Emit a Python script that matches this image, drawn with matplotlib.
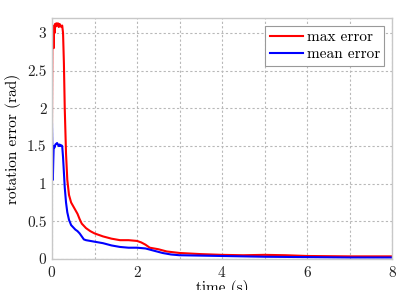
import numpy as np
import matplotlib as mpl
mpl.use('Agg')
import matplotlib.pyplot as plt

# time samples (s)
t_max = [0.0, 0.01, 0.02, 0.03, 0.04, 0.05, 0.06, 0.07, 0.08, 0.1, 0.12, 0.14, 0.16, 0.18, 0.2, 0.22, 0.24,
         0.26, 0.28, 0.3, 0.33, 0.36, 0.4, 0.45, 0.5, 0.55, 0.6, 0.65, 0.7, 0.8, 0.9, 1.0, 1.2, 1.4, 1.6, 1.8,
         2.0, 2.1, 2.2, 2.3, 2.5, 2.7, 3.0, 3.5, 4.0, 4.5, 5.0, 5.5, 6.0, 7.0, 8.0]
max_err = [1.8, 3.05, 2.85, 3.08, 2.8, 3.1, 3.0, 3.12, 3.08, 3.13, 3.1, 3.13, 3.08, 3.12, 3.1, 3.08, 3.1,
           3.0, 2.6, 2.0, 1.4, 1.05, 0.85, 0.75, 0.7, 0.65, 0.6, 0.53, 0.47, 0.41, 0.37, 0.34, 0.3, 0.27, 0.25, 0.25,
           0.24, 0.22, 0.19, 0.15, 0.13, 0.1, 0.08, 0.065, 0.055, 0.05, 0.055, 0.05, 0.04, 0.035, 0.035]

t_mean = [0.0, 0.01, 0.02, 0.03, 0.04, 0.06, 0.08, 0.1, 0.12, 0.14, 0.16, 0.18, 0.2, 0.22, 0.24, 0.26,
          0.28, 0.3, 0.33, 0.36, 0.4, 0.45, 0.5, 0.55, 0.6, 0.65, 0.7, 0.75, 0.8, 0.9, 1.0, 1.2, 1.4, 1.6,
          1.8, 2.0, 2.2, 2.4, 2.6, 2.8, 3.0, 3.5, 4.0, 5.0, 6.0, 7.0, 8.0]
mean_err = [1.8, 1.4, 1.05, 1.3, 1.5, 1.48, 1.52, 1.53, 1.54, 1.52, 1.5, 1.52, 1.5, 1.51, 1.5, 1.35,
            1.15, 0.95, 0.75, 0.62, 0.52, 0.45, 0.42, 0.39, 0.37, 0.34, 0.3, 0.26, 0.25, 0.24, 0.23, 0.21, 0.18, 0.16,
            0.15, 0.15, 0.14, 0.11, 0.08, 0.06, 0.05, 0.045, 0.04, 0.03, 0.025, 0.02, 0.02]

mpl.rcParams.update({
    "font.family": "cmr10",
    "mathtext.fontset": "cm",
    "axes.formatter.use_mathtext": True,
    "font.size": 11,
})

fig = plt.figure(figsize=(4.19, 2.90), dpi=100)
ax = fig.add_axes([52/419, 31/290, 340/419, 241/290])

ax.plot(t_max, max_err, color='#ff0000', lw=1.5, label='max error')
ax.plot(t_mean, mean_err, color='#0000ff', lw=1.5, label='mean error')

ax.set_xlim(0, 8)
ax.set_ylim(0, 3.2)
ax.set_xticks(np.arange(0, 9, 2))
ax.set_xticks(np.arange(0, 9, 1), minor=True)
ax.set_yticks(np.arange(0, 3.01, 0.5))
ax.set_yticklabels(['0', '0.5', '1', '1.5', '2', '2.5', '3'])
ax.grid(True, which='both', color='#b8b8b8', linestyle=(0, (2, 2)), linewidth=0.8)
ax.tick_params(which='both', length=0, labelsize=11, colors='#222222', pad=4)
for s in ax.spines.values():
    s.set_color('#c8c8c8')
    s.set_linewidth(1.0)

ax.set_xlabel('time (s)', fontsize=11, labelpad=0)
ax.set_ylabel('rotation error (rad)', fontsize=11, labelpad=4)

leg = ax.legend(loc='upper right', fancybox=False, framealpha=1, edgecolor='#999999',
                handlelength=2.2, borderpad=0.3, labelspacing=0.25, handletextpad=0.2, fontsize=11)
leg.get_frame().set_linewidth(0.8)

fig.savefig('out.png', dpi=100)
